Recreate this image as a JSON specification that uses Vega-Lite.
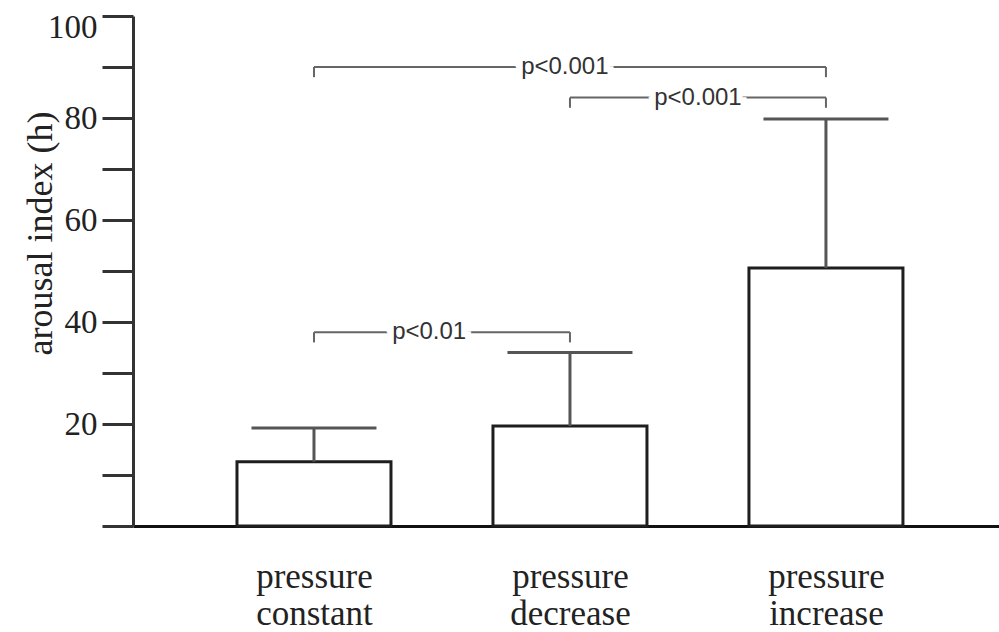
{
  "$schema": "https://vega.github.io/schema/vega-lite/v6.json",
  "autosize": "none",
  "width": 866,
  "height": 510,
  "padding": {"left": 133, "top": 16, "right": 0, "bottom": 106},
  "background": "white",
  "datasets": {
    "bars": [
      {"group": "pressure constant", "pos": 1, "mean": 12.6, "err": 19.2},
      {"group": "pressure decrease", "pos": 2, "mean": 19.6, "err": 34.0},
      {"group": "pressure increase", "pos": 3, "mean": 50.6, "err": 79.8}
    ],
    "brackets": [
      {"from": 1, "to": 3, "level": 90, "low": 88, "labelpos": 1.98, "label": "p<0.001"},
      {"from": 2, "to": 3, "level": 84, "low": 82, "labelpos": 2.5, "label": "p<0.001"},
      {"from": 1, "to": 2, "level": 38, "low": 36, "labelpos": 1.45, "label": "p<0.01"}
    ]
  },
  "config": {
    "view": {"stroke": null},
    "axis": {"grid": false}
  },
  "layer": [
    {
      "data": {"name": "bars"},
      "mark": {"type": "bar", "orient": "vertical", "width": 154, "fill": "white", "stroke": "#1e1e1e", "strokeWidth": 3},
      "encoding": {
        "x": {
          "field": "pos", "type": "quantitative",
          "scale": {"domain": [0.293, 3.676], "nice": false, "zero": false, "padding": 0},
          "axis": {
            "values": [1, 2, 3],
            "title": null,
            "ticks": false,
            "domainColor": "#111",
            "domainWidth": 3,
            "labelFont": "Liberation Serif",
            "labelFontSize": 35,
            "labelColor": "#222",
            "labelLineHeight": 37,
            "labelPadding": 33,
            "labelExpr": "datum.value == 1 ? ['pressure', 'constant'] : datum.value == 2 ? ['pressure', 'decrease'] : ['pressure', 'increase']"
          }
        },
        "y": {
          "field": "mean", "type": "quantitative",
          "scale": {"domain": [0, 100], "nice": false, "padding": 0},
          "axis": {
            "values": [0, 10, 20, 30, 40, 50, 60, 70, 80, 90, 100],
            "title": "arousal index (h)",
            "titleFont": "Liberation Serif",
            "titleFontSize": 36,
            "titleFontWeight": "normal",
            "titleColor": "#222",
            "titleX": -93,
            "titleY": 217,
            "titleAlign": "center",
            "titleBaseline": "middle",
            "domainColor": "#333",
            "domainWidth": 3,
            "tickColor": "#333",
            "tickWidth": 3,
            "tickSize": 31,
            "labelFont": "Liberation Serif",
            "labelFontSize": 33,
            "labelColor": "#222",
            "labelPadding": 5,
            "labelFlush": true,
            "labelFlushOffset": 5,
            "labelExpr": "datum.value > 0 && datum.value % 20 == 0 ? datum.label : ''"
          }
        }
      }
    },
    {
      "data": {"name": "bars"},
      "mark": {"type": "rule", "stroke": "#555", "strokeWidth": 3},
      "encoding": {
        "x": {"field": "pos", "type": "quantitative"},
        "y": {"field": "mean", "type": "quantitative", "title": "arousal index (h)"},
        "y2": {"field": "err"}
      }
    },
    {
      "data": {"name": "bars"},
      "mark": {"type": "tick", "orient": "horizontal", "size": 125, "thickness": 3, "color": "#555", "opacity": 1},
      "encoding": {
        "x": {"field": "pos", "type": "quantitative"},
        "y": {"field": "err", "type": "quantitative", "title": "arousal index (h)"}
      }
    },
    {
      "data": {"name": "brackets"},
      "mark": {"type": "rule", "stroke": "#666", "strokeWidth": 2},
      "encoding": {
        "x": {"field": "from", "type": "quantitative"},
        "x2": {"field": "to"},
        "y": {"field": "level", "type": "quantitative", "title": "arousal index (h)"}
      }
    },
    {
      "data": {"name": "brackets"},
      "mark": {"type": "rule", "stroke": "#666", "strokeWidth": 2},
      "encoding": {
        "x": {"field": "from", "type": "quantitative"},
        "y": {"field": "level", "type": "quantitative", "title": "arousal index (h)"},
        "y2": {"field": "low"}
      }
    },
    {
      "data": {"name": "brackets"},
      "mark": {"type": "rule", "stroke": "#666", "strokeWidth": 2},
      "encoding": {
        "x": {"field": "to", "type": "quantitative"},
        "y": {"field": "level", "type": "quantitative", "title": "arousal index (h)"},
        "y2": {"field": "low"}
      }
    },
    {
      "data": {"name": "brackets"},
      "mark": {"type": "text", "font": "Liberation Sans", "fontSize": 24, "stroke": "white", "strokeWidth": 12, "fill": "white", "align": "center", "baseline": "middle"},
      "encoding": {
        "x": {"field": "labelpos", "type": "quantitative"},
        "y": {"field": "level", "type": "quantitative", "title": "arousal index (h)"},
        "text": {"field": "label"}
      }
    },
    {
      "data": {"name": "brackets"},
      "mark": {"type": "text", "font": "Liberation Sans", "fontSize": 24, "fill": "#333", "align": "center", "baseline": "middle"},
      "encoding": {
        "x": {"field": "labelpos", "type": "quantitative"},
        "y": {"field": "level", "type": "quantitative", "title": "arousal index (h)"},
        "text": {"field": "label"}
      }
    }
  ]
}
